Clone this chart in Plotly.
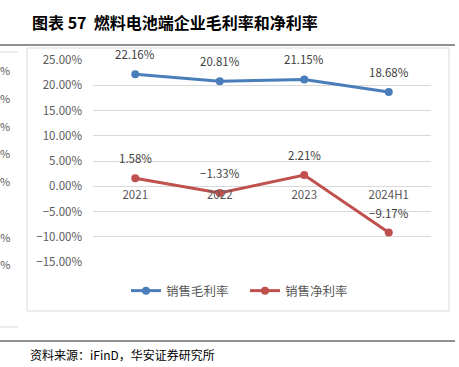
import plotly.graph_objects as go

categories = ["2021", "2022", "2023", "2024H1"]
gross_margin = [22.16, 20.81, 21.15, 18.68]
net_margin = [1.58, -1.33, 2.21, -9.17]
y_ticks = [25, 20, 15, 10, 5, 0, -5, -10, -15]

W, H = 459, 367
L, R, T, B = 93, 431, 60, 262

def px(p):
    return (p - L) / (R - L)

def py(p):
    return (B - p) / (B - T)

BLUE = "#4a7ebb"
RED = "#c0504d"
FONT = "Noto Sans CJK SC"

fig = go.Figure()
fig.add_trace(go.Scatter(x=categories, y=gross_margin, mode="lines+markers", name="销售毛利率",
                         line=dict(color=BLUE, width=3), marker=dict(size=8, color=BLUE)))
fig.add_trace(go.Scatter(x=categories, y=net_margin, mode="lines+markers", name="销售净利率",
                         line=dict(color=RED, width=3), marker=dict(size=8, color=RED)))

anns = []
for series in (gross_margin, net_margin):
    for i, v in enumerate(series):
        anns.append(dict(x=i, y=v, xref="x", yref="y", text=f"{v:.2f}%".replace("-", "−"), showarrow=False,
                         yshift=20, font=dict(size=11.5, color="#404040", family=FONT)))

# title and source
anns.append(dict(xref="paper", yref="paper", x=px(30), y=py(22), xanchor="left", yanchor="middle",
                 text="<b>图表 57  燃料电池端企业毛利率和净利率</b>", showarrow=False,
                 font=dict(size=16, color="#000000", family=FONT)))
anns.append(dict(xref="paper", yref="paper", x=px(28), y=py(354), xanchor="left", yanchor="middle",
                 text="资料来源：iFinD，华安证券研究所", showarrow=False,
                 font=dict(size=12, color="#000000", family=FONT)))
# remnants of neighbouring chart on the left
for yy, t in [(70, "0%"), (98, "0%"), (126, "0%"), (153, "0%"), (181, "0%"), (237, "00%"), (264, "00%")]:
    anns.append(dict(xref="paper", yref="paper", x=px(12), y=py(yy), xanchor="right", yanchor="middle",
                     text=t, showarrow=False, font=dict(size=11, color="#595959", family=FONT)))

shapes = [
    dict(type="line", xref="paper", yref="paper", x0=px(0), x1=px(455), y0=py(45), y1=py(45),
         line=dict(color="#222222", width=1.2)),
    dict(type="rect", xref="paper", yref="paper", x0=px(27), x1=px(449), y0=py(48), y1=py(311),
         line=dict(color="#d9d9d9", width=1)),
    dict(type="line", xref="paper", yref="paper", x0=px(0), x1=px(18), y0=py(52), y1=py(52),
         line=dict(color="#d9d9d9", width=1)),
    dict(type="line", xref="paper", yref="paper", x0=px(0), x1=px(18), y0=py(327), y1=py(327),
         line=dict(color="#d9d9d9", width=1)),
    dict(type="line", xref="paper", yref="paper", x0=px(0), x1=px(455), y0=py(341), y1=py(341),
         line=dict(color="#222222", width=1.2)),
]

fig.update_layout(
    width=W, height=H,
    margin=dict(l=L, r=W - R, t=T, b=H - B, autoexpand=False),
    paper_bgcolor="white", plot_bgcolor="white",
    showlegend=True,
    legend=dict(orientation="h", x=px(126), y=py(291), xanchor="left", yanchor="middle",
                font=dict(size=12.5, color="#595959", family=FONT), itemwidth=30,
                entrywidth=74, entrywidthmode="pixels",
                bgcolor="rgba(0,0,0,0)"),
    annotations=anns, shapes=shapes,
    font=dict(family=FONT),
)
fig.update_xaxes(type="category", anchor="free", position=15 / 40, showgrid=False, showline=False,
                 ticks="", tickfont=dict(size=11.5, color="#595959", family=FONT),
                 range=[-0.5, 3.5], zeroline=False, automargin=False)
fig.update_yaxes(range=[-15, 25], tickvals=y_ticks, ticktext=[f"{v:.2f}%".replace("-", "−") for v in y_ticks],
                 showgrid=True, gridcolor="#d9d9d9", gridwidth=1, zeroline=False, showline=False,
                 tickfont=dict(size=11.5, color="#595959", family=FONT), ticks="", ticklabelstandoff=10,
                 automargin=False)

fig.write_html("out.html", config={"displayModeBar": False},
               post_script="document.body.style.margin='0px';document.body.style.overflow='hidden';")
